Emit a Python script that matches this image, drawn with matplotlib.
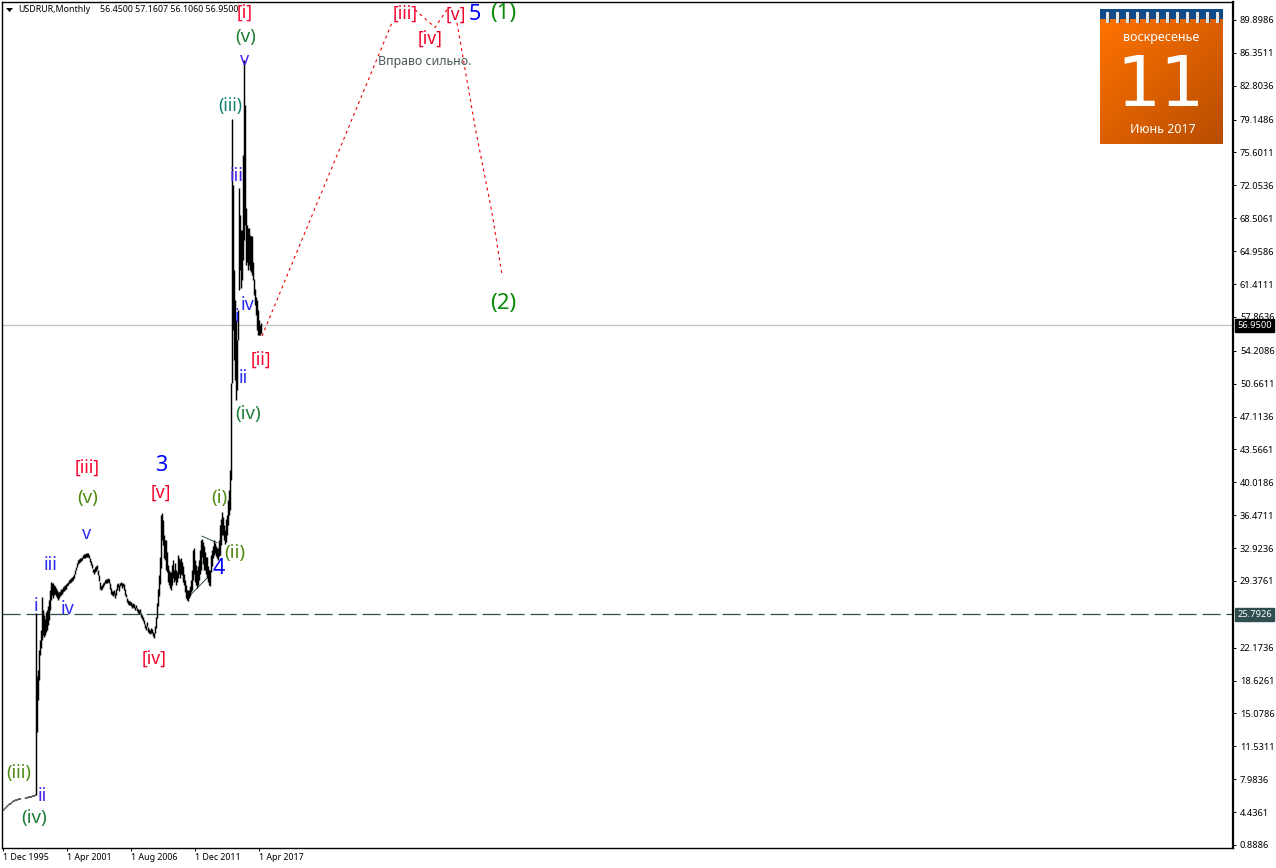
import numpy as np
import matplotlib
matplotlib.use('Agg')
import matplotlib.pyplot as plt
from matplotlib.patches import Rectangle

W, H = 1276, 868

# monthly high / low, one value per bar
bar_high = [
    4.8, 4.9, 5.0, 5.1, 5.2, 5.3, 5.4, 5.4, 5.5, 5.6, 5.7, 5.7, 5.8, 5.8, 5.8, 5.9, 5.9, 5.9, 6.0, 6.0,
    6.0, 6.0, 6.1, 6.1, 6.1, 6.2, 6.2, 6.2, 6.2, 6.3, 6.3, 6.3, 6.4,
    25.9, 19.1, 19.8, 21.9, 23.0, 24.1, 27.6, 26.2, 25.7, 25.3, 26.0, 26.2, 26.7, 27.3, 28.4, 29.3, 29.2,
    29.2, 28.9, 28.8, 28.6, 28.4, 28.2, 28.2, 28.3, 28.5, 28.5, 28.7, 28.8, 28.9, 29.0,
    29.2, 29.3, 29.5, 29.6, 29.7, 29.8, 29.9, 30.1, 30.5, 30.9, 31.3, 31.6, 31.7, 31.8, 31.9, 32.0,
    32.2, 32.3, 32.3, 32.4, 32.4, 32.4, 32.2, 31.8, 31.5, 31.2, 30.7, 30.7, 30.9, 31.0, 31.1, 30.6,
    30.0, 29.3, 28.8, 28.9, 29.1, 29.3, 29.5, 29.6, 29.6, 29.7, 29.6, 29.1, 28.6, 28.3, 28.3, 28.4,
    28.1, 28.5, 29.0, 29.1, 28.9, 29.2, 29.3, 29.2, 29.2, 29.0, 28.5, 28.0, 27.5, 27.3, 27.2, 27.2,
    27.1, 26.9, 27.0, 26.9, 26.6, 26.8, 26.5, 26.3, 26.2, 26.3, 25.9, 25.7, 25.5, 25.2, 24.7, 24.5,
    24.9, 24.4, 24.2, 24.1, 24.3, 24.2, 23.9, 23.8, 24.5, 25.5, 27.0, 28.5, 30.0, 32.0,
    36.5, 36.7, 36.0, 34.3, 33.8, 33.8, 32.5, 31.1, 30.5, 30.3, 30.3, 31.1, 31.6, 30.5, 31.3, 30.5,
    30.3, 32.2, 31.8, 31.6, 31.8, 31.4, 31.0, 30.1, 29.5, 28.9, 28.4, 28.4, 28.4, 28.8, 29.5, 30.5,
    32.7, 32.9, 31.6, 31.1, 30.5, 31.0, 31.6, 32.7, 33.8, 33.9, 33.6, 33.1, 32.5, 32.0, 32.0, 31.0,
    30.5, 30.5, 32.2, 32.7, 33.1, 33.8, 33.5, 33.1, 32.9, 32.9, 33.8, 35.4, 36.1, 36.8, 36.3, 35.4,
    34.9, 36.1, 36.5, 38.1, 39.2, 41.3, 50.7, 79.2, 72.1, 62.9, 59.7, 57.5, 55.4, 58.6, 71.8, 68.9,
    67.2, 67.2, 75.3, 85.6, 80.7, 69.6, 67.8, 67.5, 67.5, 66.7, 66.6, 66.6, 63.8, 62.0, 60.9, 60.0,
    59.7, 58.6, 57.5, 57.0, 57.2,
]
bar_low = [
    4.7, 4.8, 4.9, 5.0, 5.1, 5.2, 5.3, 5.3, 5.4, 5.5, 5.6, 5.6, 5.7, 5.7, 5.7, 5.8, 5.8, 5.8, 5.9, 5.9,
    5.9, 5.9, 6.0, 6.0, 6.0, 6.1, 6.1, 6.1, 6.1, 6.2, 6.2, 6.2, 6.3,
    6.3, 13.1, 16.5, 18.7, 21.4, 22.1, 23.0, 23.5, 23.3, 23.5, 23.9, 24.1, 24.6, 25.2, 26.2, 27.3, 27.9,
    27.5, 27.9, 28.0, 27.8, 27.5, 27.3, 27.5, 27.7, 27.9, 28.0, 28.2, 28.3, 28.4, 28.5,
    28.8, 28.9, 29.1, 29.2, 29.3, 29.4, 29.5, 29.7, 30.1, 30.5, 30.9, 31.2, 31.3, 31.4, 31.5, 31.6,
    31.8, 31.9, 31.9, 32.0, 32.0, 32.0, 31.8, 31.4, 31.1, 30.8, 30.3, 30.1, 30.3, 30.4, 30.7, 30.0,
    29.4, 28.5, 28.4, 28.5, 28.7, 28.9, 29.1, 29.2, 29.2, 29.3, 29.2, 28.5, 28.0, 27.9, 27.8, 28.0,
    27.5, 27.9, 28.4, 28.7, 28.3, 28.8, 28.9, 28.6, 28.8, 28.4, 27.9, 27.6, 27.1, 26.9, 26.8, 26.8,
    26.7, 26.5, 26.6, 26.5, 26.2, 26.4, 26.1, 25.9, 25.8, 25.9, 25.5, 25.3, 25.1, 24.7, 24.3, 24.1,
    24.5, 23.9, 23.7, 23.6, 23.8, 23.7, 23.4, 23.2, 23.7, 24.3, 25.4, 26.7, 27.8, 29.0,
    30.8, 33.8, 33.3, 31.8, 31.6, 30.6, 30.3, 29.3, 28.9, 28.6, 28.4, 28.9, 29.7, 29.3, 29.5, 28.9,
    29.3, 29.7, 30.1, 29.7, 30.1, 30.0, 29.3, 28.9, 28.2, 27.5, 27.3, 27.2, 27.5, 27.7, 28.2, 28.4,
    29.5, 30.1, 29.3, 28.9, 28.6, 28.9, 29.5, 30.1, 30.5, 32.0, 31.2, 30.6, 30.5, 30.1, 29.7, 29.3,
    28.9, 28.8, 30.3, 31.0, 31.8, 32.2, 32.4, 32.1, 31.8, 31.6, 32.1, 32.2, 33.2, 34.3, 34.3, 33.8,
    33.4, 33.6, 34.3, 35.4, 36.5, 37.0, 40.3, 50.7, 56.5, 53.2, 51.1, 48.9, 50.0, 55.4, 60.8, 62.9,
    61.0, 61.8, 64.0, 66.2, 67.8, 63.5, 63.8, 62.9, 63.5, 62.9, 62.7, 62.4, 61.8, 60.2, 59.1, 58.1,
    56.5, 55.9, 55.9, 55.9, 56.1,
]
bar_index = np.arange(len(bar_high))

# dotted forecast path (bar number, price)
wave_a_x = [259, 389]
wave_a_y = [55.8, 89.6]
wave_b_x = [412, 432, 444]
wave_b_y = [91.0, 89.1, 91.0]
wave_c_x = [454, 472, 489, 499]
wave_c_y = [89.6, 78.4, 69.1, 62.4]

# triangle trend lines
tri_low_x = [185, 207]
tri_low_y = [27.6, 30.0]
tri_up_x = [199, 214]
tri_up_y = [34.2, 33.5]

hline_price = 25.7926
last_price = 56.95

price_ticks = [89.8986, 86.3511, 82.8036, 79.1486, 75.6011, 72.0536, 68.5061, 64.9586, 61.4111,
               57.8636, 54.2086, 50.6611, 47.1136, 43.5661, 40.0186, 36.4711, 32.9236, 29.3761,
               22.1736, 18.6261, 15.0786, 11.5311, 7.9836, 4.4361, 0.8886]
date_ticks = [0, 64, 128, 192, 256]
date_labels = ['1 Dec 1995', '1 Apr 2001', '1 Aug 2006', '1 Dec 2011', '1 Apr 2017']

RED = '#f5002a'
BLUE = '#2a2af5'
GREEN = '#1f7f3a'
OLIVE = '#4f8a10'
TEAL = '#108070'
PURPLE = '#4a1ff0'

# text, centre x px, centre y px, colour, size
wave_labels = [
    ('[i]', 245, 13, RED, 12.5), ('(v)', 246, 37, GREEN, 13.5), ('v', 245, 60, PURPLE, 13),
    ('(iii)', 230, 106, TEAL, 12.5), ('iii', 237, 176, PURPLE, 13), ('iv', 248, 305, BLUE, 13),
    ('i', 237, 317, BLUE, 13), ('ii', 243, 378, BLUE, 13), ('[ii]', 261, 360, RED, 12.5),
    ('(iv)', 248, 414, GREEN, 13.5), ('[iii]', 405, 14, RED, 12.5), ('[iv]', 430, 39, RED, 12.5),
    ('[v]', 456, 15, RED, 12.5), ('5', 475, 14, '#0000ff', 15.5), ('(1)', 503, 14, '#0a8a0a', 16),
    ('(2)', 503, 304, '#0a8a0a', 16), ('[iii]', 87, 468, RED, 12.5), ('(v)', 88, 498, OLIVE, 13.5),
    ('v', 87, 534, BLUE, 13), ('3', 161, 466, '#0000ff', 15.5), ('[v]', 161, 493, RED, 12.5),
    ('(i)', 219, 498, OLIVE, 13.5), ('(ii)', 235, 553, OLIVE, 13.5), ('4', 219, 568, '#0000ff', 15.5),
    ('iii', 51, 565, BLUE, 13), ('i', 36, 606, BLUE, 13), ('iv', 68, 609, BLUE, 13),
    ('[iv]', 154, 659, RED, 12.5), ('(iii)', 19, 773, OLIVE, 13), ('ii', 42, 796, PURPLE, 13),
    ('(iv)', 34, 818, GREEN, 13.5),
]

plt.rcParams['font.family'] = ['Noto Sans', 'DejaVu Sans']

fig = plt.figure(figsize=(W / 100, H / 100), dpi=100, facecolor='white')
# axes box measured in pixels: 2..1233 wide, 2..848 high
ax = fig.add_axes([2 / W, 1 - 848 / H, 1231 / W, 846 / H])
ax.set_xlim(-1, 1230)
ax.set_ylim(0.555, 91.84)

ax.axhline(last_price, color='#c0c0c0', lw=0.9, zorder=1)
ax.plot([-1, 1230], [hline_price, hline_price], color='#2f4f4f', lw=0.9, dashes=(14.4, 4.8), zorder=1)
ax.vlines(bar_index, bar_low, bar_high, color='black', lw=1.05, zorder=3)

ax.plot(tri_low_x, tri_low_y, color='#2f4f4f', lw=0.7, zorder=2)
ax.plot(tri_up_x, tri_up_y, color='#2f4f4f', lw=0.7, zorder=2)

for xs, ys in [(wave_a_x, wave_a_y), (wave_b_x, wave_b_y), (wave_c_x, wave_c_y)]:
    ax.plot(xs, ys, color='#f00000', lw=0.8, dashes=(2.6, 3.2), zorder=2)

ax.yaxis.tick_right()
ax.set_yticks(price_ticks)
ax.set_yticklabels(['%.4f' % p for p in price_ticks])
ax.set_xticks(date_ticks)
ax.set_xticklabels(date_labels, ha='left')
ax.tick_params(axis='y', length=2.5, width=0.7, pad=2.5, labelsize=6.7)
ax.tick_params(axis='x', length=2.5, width=0.7, pad=1, labelsize=6.4)
for name in ['left', 'top', 'bottom']:
    ax.spines[name].set_linewidth(1.0)
ax.spines['right'].set_linewidth(1.6)

# price boxes on the right axis
ax.annotate('%.4f' % last_price, xy=(1, last_price), xycoords=('axes fraction', 'data'),
            xytext=(3, 0), textcoords='offset points', va='center', ha='left', fontsize=6.7,
            color='white', bbox=dict(boxstyle='square,pad=0.22', fc='black', ec='black'),
            annotation_clip=False, zorder=6)
ax.annotate('%.4f' % hline_price, xy=(1, hline_price), xycoords=('axes fraction', 'data'),
            xytext=(3, 0), textcoords='offset points', va='center', ha='left', fontsize=6.7,
            color='white', bbox=dict(boxstyle='square,pad=0.22', fc='#2f4f4f', ec='#2f4f4f'),
            annotation_clip=False, zorder=6)


def px_text(x, y, s, **kw):
    fig.text(x / W, 1 - y / H, s, **kw)


# chart header
px_text(18, 10, 'USDRUR,Monthly', fontsize=6.4, va='center', color='black')
px_text(100, 10, '56.4500 57.1607 56.1060 56.9500', fontsize=6.4, va='center', color='black')

for txt, cx, cy, col, size in wave_labels:
    px_text(cx, cy, txt, color=col, fontsize=size, ha='center', va='center', zorder=5)
px_text(425, 62, 'Вправо сильно.', color='#4a5a5a', fontsize=8.9, ha='center', va='center')

# overlay in pixel coords for the small marker and the calendar picture
ov = fig.add_axes([0, 0, 1, 1], facecolor='none')
ov.set_xlim(0, W)
ov.set_ylim(H, 0)
ov.axis('off')
ov.fill([6, 13, 9.5], [8, 8, 12], color='black', lw=0)

grad = np.linspace(0, 1, 123)[None, :] + np.linspace(0, 1, 125)[:, None]
orange = np.array([1.0, 0.45, 0.0])
brown = np.array([0.72, 0.30, 0.0])
img = orange + (brown - orange) * (grad / 2)[..., None]
ov.imshow(img, extent=(1100, 1223, 144, 19), aspect='auto', zorder=1)
ov.add_patch(Rectangle((1100, 9), 123, 10, color='#0f4a8a', lw=0, zorder=2))
for rx in range(1106, 1218, 10):
    ov.add_patch(Rectangle((rx, 12), 3, 11, color='#e4e4e4', lw=0, zorder=3))
    ov.add_patch(Rectangle((rx + 3, 14), 1, 9, color='#444444', lw=0, zorder=3))
ov.set_xlim(0, W)
ov.set_ylim(H, 0)

ov.text(1161, 38, 'воскресенье', color='white', fontsize=9, ha='center', va='center', zorder=4)
ov.text(1161, 87, '11', color='white', fontsize=50, ha='center', va='center', zorder=4,
        family='DejaVu Sans')
ov.text(1163, 129.5, 'Июнь 2017', color='white', fontsize=9, ha='center', va='center', zorder=4)

fig.savefig('out.png', dpi=100)
